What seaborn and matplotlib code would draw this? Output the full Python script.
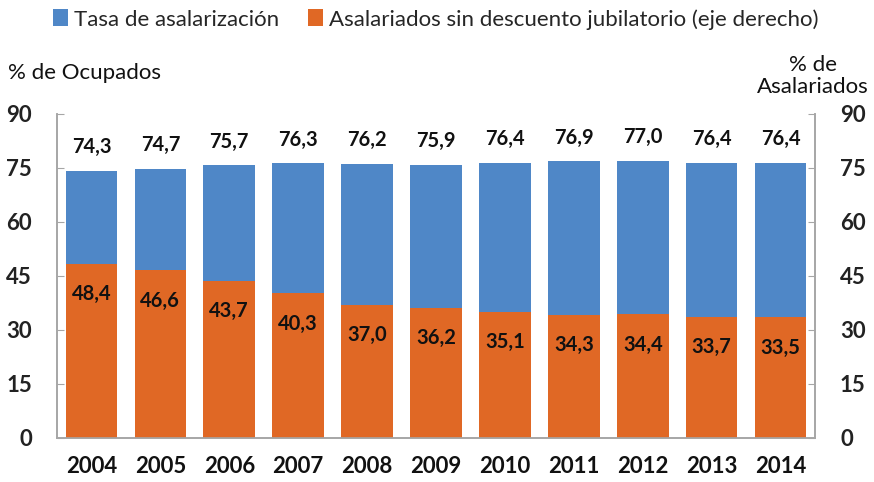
import matplotlib
matplotlib.use("Agg")
import matplotlib.pyplot as plt
import seaborn as sns
import pandas as pd
from matplotlib.patches import Patch

years = ["2004", "2005", "2006", "2007", "2008", "2009", "2010", "2011", "2012", "2013", "2014"]
tasa_asalarizacion = [74.3, 74.7, 75.7, 76.3, 76.2, 75.9, 76.4, 76.9, 77.0, 76.4, 76.4]
sin_descuento = [48.4, 46.6, 43.7, 40.3, 37.0, 36.2, 35.1, 34.3, 34.4, 33.7, 33.5]
y_ticks = [0, 15, 30, 45, 60, 75, 90]
legend_labels = ["Tasa de asalarización", "Asalariados sin descuento jubilatorio (eje derecho)"]

BLUE = "#4F87C7"
ORANGE = "#E06825"
SPINE = "#A6A6A6"

sns.set_style("white")
plt.rcParams["font.family"] = ["Lato", "DejaVu Sans"]

df = pd.DataFrame({"year": years, "tasa": tasa_asalarizacion, "sin": sin_descuento})

fig = plt.figure(figsize=(8.74, 4.82), dpi=100)
ax = fig.add_axes([0.0652, 0.0913, 0.8673, 0.6722])
ax2 = ax.twinx()

sns.barplot(data=df, x="year", y="tasa", color=BLUE, width=0.75, ax=ax, saturation=1, linewidth=0)
sns.barplot(data=df, x="year", y="sin", color=ORANGE, width=0.75, ax=ax2, saturation=1, linewidth=0)

for a in (ax, ax2):
    a.set_ylim(0, 90)
    a.set_yticks(y_ticks)
    a.set_xlim(-0.5, len(years) - 0.5)
    a.set_xlabel("")
    a.set_ylabel("")
    for s in a.spines.values():
        s.set_color(SPINE)
        s.set_linewidth(1.2)
    a.spines["top"].set_visible(False)

for a in (ax, ax2):
    a.tick_params(axis="y", direction="in", length=5, color=SPINE, pad=18, labelsize=16, labelcolor="#222222")
ax.tick_params(axis="x", length=0, pad=13, labelsize=16, labelcolor="#111111")
for lbl in ax.get_xticklabels() + ax.get_yticklabels() + ax2.get_yticklabels():
    lbl.set_fontweight("bold")
ax2.tick_params(axis="x", length=0)

# data labels
for cont in ax.containers:
    for rect, v in zip(cont, tasa_asalarizacion):
        ax.annotate(f"{v:.1f}".replace(".", ","), (rect.get_x() + rect.get_width() / 2, rect.get_height()),
                    xytext=(0, 17), textcoords="offset points", ha="center", va="center",
                    fontsize=14.5, fontweight="bold", color="#111111")
for cont in ax2.containers:
    for rect, v in zip(cont, sin_descuento):
        ax2.annotate(f"{v:.1f}".replace(".", ","), (rect.get_x() + rect.get_width() / 2, rect.get_height()),
                     xytext=(0, -22), textcoords="offset points", ha="center", va="center",
                     fontsize=14.5, fontweight="bold", color="#111111")

fig.text(0.009, 0.848, "% de Ocupados", fontsize=16, ha="left", va="center", color="#111111")
fig.text(0.930, 0.842, "% de\nAsalariados", fontsize=16, ha="center", va="center", color="#111111",
         multialignment="center", linespacing=1.1)

handles = [Patch(facecolor=BLUE, edgecolor="none"), Patch(facecolor=ORANGE, edgecolor="none")]
fig.legend(handles, legend_labels, loc="center", bbox_to_anchor=(0.499, 0.960), ncol=2, frameon=False,
           fontsize=16, handlelength=0.65, handleheight=0.8, handletextpad=0.3, columnspacing=1.3,
           borderpad=0, borderaxespad=0)

fig.savefig("out.png", dpi=100)
